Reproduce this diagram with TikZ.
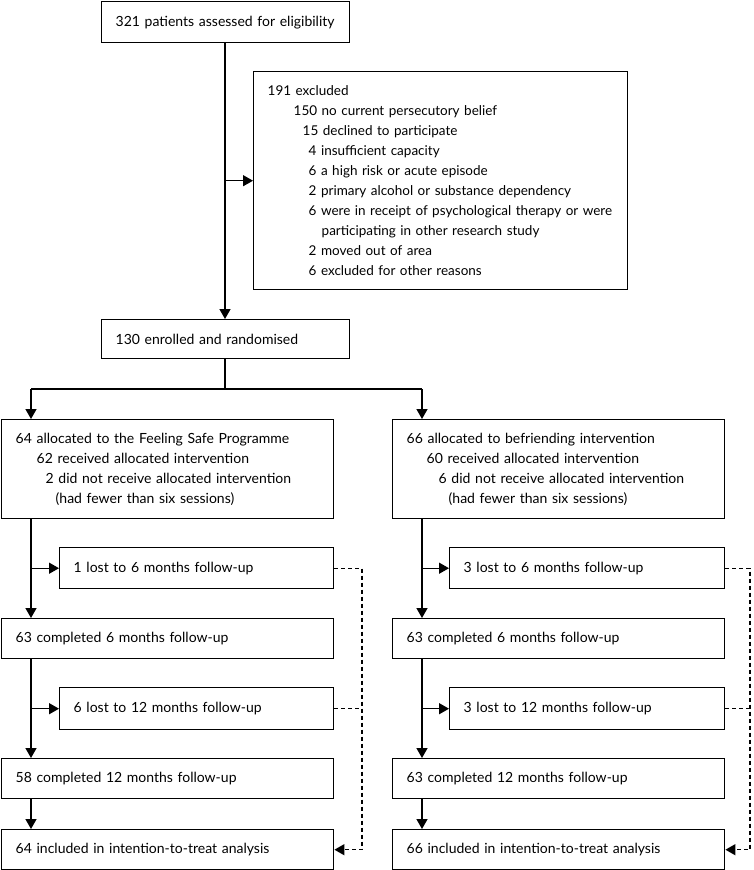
\documentclass[tikz,border=0pt]{standalone}
\usepackage{fontspec}
\setmainfont{Lato}
\usetikzlibrary{arrows.meta,calc}
\begin{document}
\begin{tikzpicture}[x=1pt,y=-1pt,
  box/.style={draw,line width=1.4pt,anchor=north west,inner xsep=14pt,inner ysep=0pt,
    align=left,font=\fontsize{14}{20}\selectfont},
  arr/.style={line width=1.4pt,-{Triangle[length=10pt,width=11pt]}},
  ln/.style={line width=1.4pt},
  dsh/.style={line width=1.4pt,dash pattern=on 4pt off 3pt}]
\useasboundingbox (0,0) rectangle (754,870);
\newcommand{\bx}[7]{\node[box,minimum width=#4,minimum height=#5,text width=#6] (#1) at (#2,#3) {#7};}
\bx{b1}{101}{1}{248pt}{41pt}{220pt}{321 patients assessed for eligibility}
\node[box,minimum width=374pt,minimum height=218pt,text width=346pt,font=\fontsize{13.5}{20}\selectfont] (excl) at (253,71) {191 excluded\\
\hspace*{26pt}150 no current persecutory belief\\
\hspace*{35pt}15 declined to participate\\
\hspace*{41pt}4 insufficient capacity\\
\hspace*{41pt}6 a high risk or acute episode\\
\hspace*{41pt}2 primary alcohol or substance dependency\\
\hspace*{41pt}\mbox{6 were in receipt of psychological therapy or were}\\
\hspace*{54pt}participating in other research study\\
\hspace*{41pt}2 moved out of area\\
\hspace*{41pt}6 excluded for other reasons};
\bx{b130}{101}{319}{248pt}{39pt}{220pt}{130 enrolled and randomised}
\bx{allocL}{1}{419}{332pt}{99pt}{304pt}{64 allocated to the Feeling Safe Programme\\
\hspace*{21pt}62 received allocated intervention\\
\hspace*{30pt}2 did not receive allocated intervention\\
\hspace*{40pt}(had fewer than six sessions)}
\bx{allocR}{392}{419}{332pt}{99pt}{304pt}{66 allocated to befriending intervention\\
\hspace*{20pt}60 received allocated intervention\\
\hspace*{32pt}6 did not receive allocated intervention\\
\hspace*{42pt}(had fewer than six sessions)}
\bx{lost6L}{59}{547}{274pt}{41pt}{246pt}{1 lost to 6 months follow-up}
\bx{lost6R}{449}{547}{275pt}{41pt}{247pt}{3 lost to 6 months follow-up}
\bx{c6L}{1}{618}{332pt}{40pt}{304pt}{63 completed 6 months follow-up}
\bx{c6R}{392}{618}{332pt}{40pt}{304pt}{63 completed 6 months follow-up}
\bx{lost12L}{59}{687}{274pt}{42pt}{246pt}{6 lost to 12 months follow-up}
\bx{lost12R}{449}{687}{275pt}{42pt}{247pt}{3 lost to 12 months follow-up}
\bx{c12L}{1}{758}{332pt}{40pt}{304pt}{58 completed 12 months follow-up}
\bx{c12R}{392}{758}{332pt}{40pt}{304pt}{63 completed 12 months follow-up}
\bx{ittL}{1}{829}{332pt}{40pt}{304pt}{64 included in intention-to-treat analysis}
\bx{ittR}{392}{829}{332pt}{40pt}{304pt}{66 included in intention-to-treat analysis}
% trunk
\coordinate (tx) at (225,0);
\draw[arr] (tx |- b1.south) -- (tx |- b130.north);
\draw[arr] (tx |- excl.west) -- (excl.west);
\coordinate (sp) at (225,389);
\coordinate (lx) at (31,389);
\coordinate (rx) at (422,389);
\draw[ln] (tx |- b130.south) -- (sp);
\draw[ln] (lx) -- (rx);
\draw[arr] (lx) -- (lx |- allocL.north);
\draw[arr] (rx) -- (rx |- allocR.north);
% columns
\foreach \s/\x in {L/lx,R/rx}{
  \draw[arr] (\x |- alloc\s.south) -- (\x |- c6\s.north);
  \draw[arr] (\x |- lost6\s.west) -- (lost6\s.west);
  \draw[arr] (\x |- c6\s.south) -- (\x |- c12\s.north);
  \draw[arr] (\x |- lost12\s.west) -- (lost12\s.west);
  \draw[arr] (\x |- c12\s.south) -- (\x |- itt\s.north);
}
% dashed
\coordinate (dl) at (362,0);
\coordinate (dr) at (750,0);
\draw[dsh,-{Triangle[length=10pt,width=11pt]}] (lost6L.east) -- (dl |- lost6L.east) -- (dl |- ittL.east) -- (ittL.east);
\draw[dsh] (lost12L.east) -- (dl |- lost12L.east);
\draw[dsh,-{Triangle[length=10pt,width=11pt]}] (lost6R.east) -- (dr |- lost6R.east) -- (dr |- ittR.east) -- (ittR.east);
\draw[dsh] (lost12R.east) -- (dr |- lost12R.east);
\end{tikzpicture}
\end{document}
